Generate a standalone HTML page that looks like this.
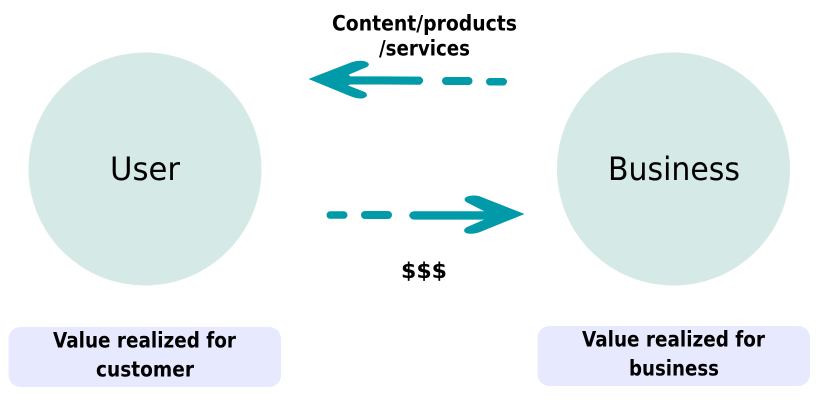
<!DOCTYPE html>
<html>
<head>
<meta charset="utf-8">
<style>
html,body{margin:0;padding:0;background:#fff;width:818px;height:402px;overflow:hidden}
svg{display:block}
text{font-family:"DejaVu Sans","Liberation Sans",sans-serif;fill:#000;text-anchor:start}
.b{font-weight:bold;font-size:21px}
.r{font-size:32px}
</style>
</head>
<body>
<svg width="818" height="402" viewBox="0 0 818 402" xmlns="http://www.w3.org/2000/svg">
<circle cx="145" cy="169" r="116.5" fill="#d5e9e6"/>
<circle cx="673.5" cy="169" r="116.5" fill="#d5e9e6"/>
<rect x="8.5" y="327" width="272.5" height="60" rx="12" fill="#e7e9fe"/>
<rect x="537.5" y="326" width="272.5" height="60" rx="12" fill="#e7e9fe"/>

<text class="r" x="110" y="180" textLength="70" lengthAdjust="spacingAndGlyphs">User</text>
<text class="r" x="608" y="180" textLength="132" lengthAdjust="spacingAndGlyphs">Business</text>

<text class="b" x="332" y="30.5" textLength="185" lengthAdjust="spacingAndGlyphs">Content/products</text>
<text class="b" x="379" y="55.5" textLength="91" lengthAdjust="spacingAndGlyphs">/services</text>
<text class="b" x="401" y="278" font-size="23" textLength="46" lengthAdjust="spacingAndGlyphs">$$$</text>
<text class="b" x="53" y="347.5" textLength="183" lengthAdjust="spacingAndGlyphs">Value realized for</text>
<text class="b" x="96" y="376.5" textLength="98" lengthAdjust="spacingAndGlyphs">customer</text>
<text class="b" x="582" y="346.5" textLength="183" lengthAdjust="spacingAndGlyphs">Value realized for</text>
<text class="b" x="629" y="375.5" textLength="90" lengthAdjust="spacingAndGlyphs">business</text>

<g fill="#009aa8" stroke="#009aa8" stroke-width="0.8" stroke-linejoin="round">
  <path d="M309.500 79 L352 62.500 Q358 60.500 364 61.500 Q371 63.500 367 66.500 L348 74.500 L350 76.700 L420 77 Q425.500 80.500 420 84.300 L350 84 L347 85.500 L365 92.500 Q369 96 363 98 Q357 98.500 351 96 Z"/>
  <path d="M409.500 215.400 Q410.500 212 414 211.700 L486 211.700 L467 202 Q463 199.500 467 197 Q473 195 479 196.500 L523.500 214 L479 232 Q473 234 467 233 Q462 231 467 227.500 L486 219.200 L414 219.200 Q410.500 219 409.500 215.400 Z"/>
</g>
<g fill="#009aa8">
  <rect x="442" y="77" width="30.500" height="8" rx="4"/>
  <rect x="486" y="78" width="21" height="7.500" rx="3.750"/>
  <rect x="326.500" y="211.300" width="21" height="7.500" rx="3.750"/>
  <rect x="361" y="211" width="31" height="8" rx="4"/>
</g>
</svg>
</body>
</html>
